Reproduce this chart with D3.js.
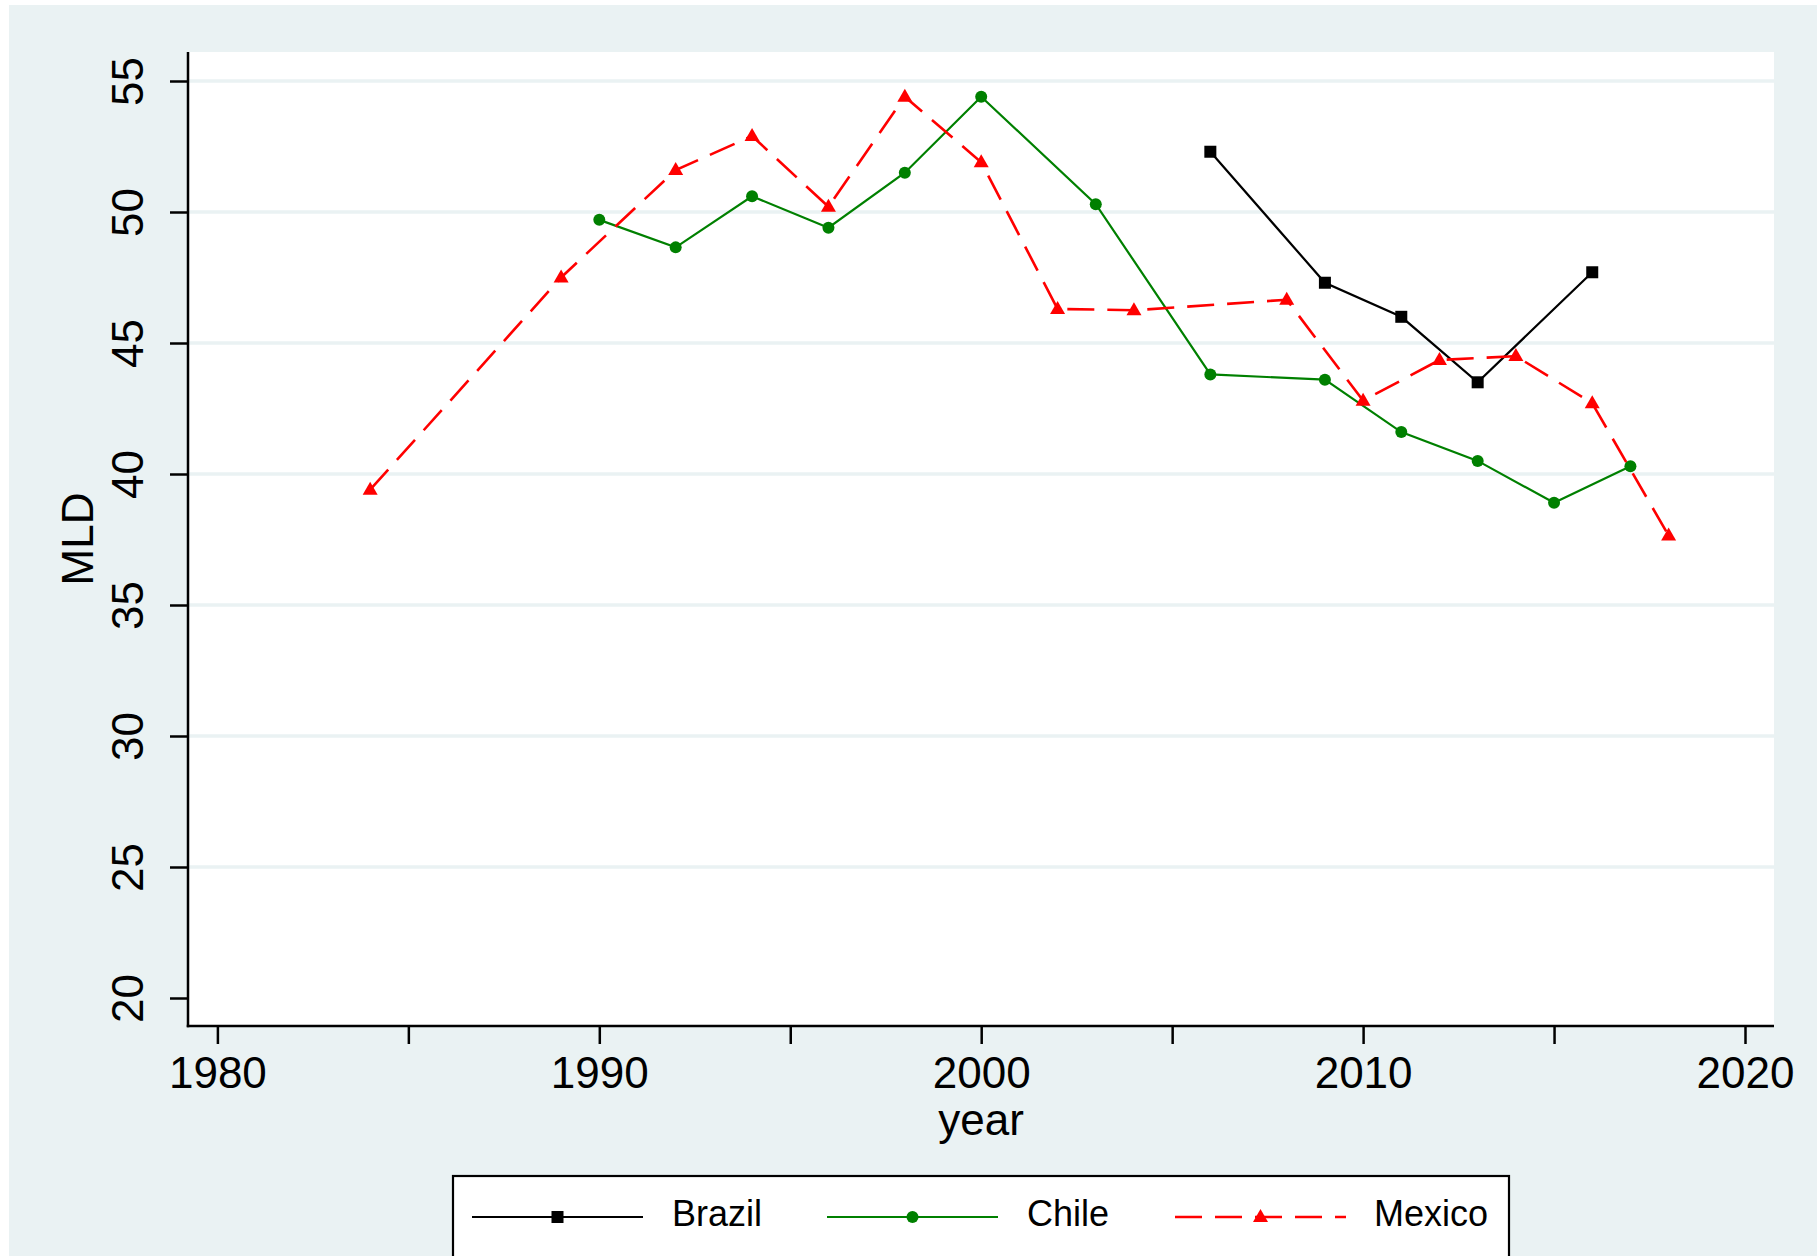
<!DOCTYPE html>
<html>
<head>
<meta charset="utf-8">
<script src="https://cdn.jsdelivr.net/npm/d3@7"></script>
<style>
  html, body { margin: 0; padding: 0; background: #ffffff; }
  svg { display: block; }
  text { font-family: "Liberation Sans", Arial, Helvetica, sans-serif; fill: #000; }
</style>
</head>
<body>
<svg id="chart" width="1817" height="1256"></svg>
<script>
// ---- Data ----
const seriesNames = ["Brazil", "Chile", "Mexico"];

const brazilYears = [2006, 2009, 2011, 2013, 2016];
const brazilMLD   = [52.3, 47.3, 46.0, 43.5, 47.7];

const chileYears = [1990, 1992, 1994, 1996, 1998, 2000, 2003, 2006, 2009, 2011, 2013, 2015, 2017];
const chileMLD   = [49.7, 48.65, 50.6, 49.4, 51.5, 54.4, 50.3, 43.8, 43.6, 41.6, 40.5, 38.9, 40.3];

const mexicoYears = [1984, 1989, 1992, 1994, 1996, 1998, 2000, 2002, 2004, 2008, 2010, 2012, 2014, 2016, 2018];
const mexicoMLD   = [39.4, 47.5, 51.6, 52.9, 50.2, 54.4, 51.9, 46.3, 46.25, 46.65, 42.8, 44.35, 44.5, 42.7, 37.65];

const xTicks = [1980, 1985, 1990, 1995, 2000, 2005, 2010, 2015, 2020];
const xTickLabels = ["1980", "", "1990", "", "2000", "", "2010", "", "2020"];
const yTicks = [20, 25, 30, 35, 40, 45, 50, 55];
const yTickLabels = ["20", "25", "30", "35", "40", "45", "50", "55"];
const yGrid = [25, 30, 35, 40, 45, 50, 55];

const xTitle = "year";
const yTitle = "MLD";

// ---- Layout ----
const W = 1817, H = 1256;
const plot = { left: 188, top: 52, right: 1774, bottom: 1026 };
const bgColor = "#eaf2f3";

const svg = d3.select("#chart");

// outer graph region
svg.append("rect")
  .attr("x", 9).attr("y", 5)
  .attr("width", W - 9).attr("height", H - 5)
  .attr("fill", bgColor);

// plot region
svg.append("rect")
  .attr("x", plot.left).attr("y", plot.top)
  .attr("width", plot.right - plot.left).attr("height", plot.bottom - plot.top)
  .attr("fill", "#ffffff");

const x = d3.scaleLinear().domain([1980, 2020]).range([217.4, 1745]);
const y = d3.scaleLinear().domain([20, 55]).range([998, 81]);

// gridlines
svg.append("g").selectAll("line")
  .data(yGrid)
  .join("line")
  .attr("x1", plot.left).attr("x2", plot.right)
  .attr("y1", d => y(d)).attr("y2", d => y(d))
  .attr("stroke", bgColor)
  .attr("stroke-width", 3.5);

// Y axis
const yAxis = d3.axisLeft(y)
  .tickValues(yTicks)
  .tickSize(18)
  .tickPadding(27)
  .tickFormat((d, i) => yTickLabels[i]);

const gy = svg.append("g")
  .attr("transform", `translate(${plot.left},0)`)
  .call(yAxis);
gy.select(".domain").remove();
gy.selectAll(".tick line").attr("stroke", "#000").attr("stroke-width", 2.5);
gy.selectAll(".tick text")
  .attr("x", null).attr("dy", null)
  .attr("transform", "translate(-45,0) rotate(-90)")
  .attr("text-anchor", "middle")
  .attr("font-size", 44)
  .style("font-family", '"Liberation Sans", Arial, sans-serif');

// X axis
const xAxis = d3.axisBottom(x)
  .tickValues(xTicks)
  .tickSize(18)
  .tickFormat((d, i) => xTickLabels[i]);

const gx = svg.append("g")
  .attr("transform", `translate(0,${plot.bottom})`)
  .call(xAxis);
gx.select(".domain").remove();
gx.selectAll(".tick line").attr("stroke", "#000").attr("stroke-width", 2.5);
gx.selectAll(".tick text")
  .attr("y", 62).attr("dy", null)
  .attr("font-size", 44)
  .style("font-family", '"Liberation Sans", Arial, sans-serif');

// axis lines
svg.append("line")
  .attr("x1", plot.left).attr("x2", plot.left)
  .attr("y1", plot.top).attr("y2", plot.bottom + 1.25)
  .attr("stroke", "#000").attr("stroke-width", 2.5);
svg.append("line")
  .attr("x1", plot.left - 1.25).attr("x2", plot.right)
  .attr("y1", plot.bottom).attr("y2", plot.bottom)
  .attr("stroke", "#000").attr("stroke-width", 2.5);

// axis titles
svg.append("text")
  .attr("x", (plot.left + plot.right) / 2)
  .attr("y", 1135)
  .attr("text-anchor", "middle")
  .attr("font-size", 44)
  .text(xTitle);

svg.append("text")
  .attr("transform", `translate(93,${(plot.top + plot.bottom) / 2}) rotate(-90)`)
  .attr("text-anchor", "middle")
  .attr("font-size", 44)
  .text(yTitle);

// ---- Series ----
const series = [
  { name: seriesNames[0], years: brazilYears, vals: brazilMLD, color: "#000000", dash: null, marker: "square" },
  { name: seriesNames[1], years: chileYears, vals: chileMLD, color: "#008000", dash: null, marker: "circle" },
  { name: seriesNames[2], years: mexicoYears, vals: mexicoMLD, color: "#ff0000", dash: "27,13", marker: "triangle" }
];

const line = d3.line().x(d => x(d[0])).y(d => y(d[1]));

function drawMarker(g, type, color) {
  if (type === "square") {
    g.append("rect").attr("x", -6).attr("y", -6).attr("width", 12).attr("height", 12).attr("fill", color);
  } else if (type === "circle") {
    g.append("circle").attr("r", 6).attr("fill", color);
  } else {
    g.append("path").attr("d", "M0,-8L7.5,5L-7.5,5Z").attr("fill", color);
  }
}

series.forEach(s => {
  const pts = s.years.map((yr, i) => [yr, s.vals[i]]);
  const p = svg.append("path")
    .datum(pts)
    .attr("d", line)
    .attr("fill", "none")
    .attr("stroke", s.color)
    .attr("stroke-width", s.dash ? 2.6 : 2.2);
  if (s.dash) p.attr("stroke-dasharray", s.dash);
  const mg = svg.append("g");
  pts.forEach(pt => {
    const g = mg.append("g").attr("transform", `translate(${x(pt[0])},${y(pt[1])})`);
    drawMarker(g, s.marker, s.color);
  });
});

// ---- Legend ----
svg.append("rect")
  .attr("x", 453).attr("y", 1176)
  .attr("width", 1056).attr("height", 140)
  .attr("fill", "#ffffff")
  .attr("stroke", "#000").attr("stroke-width", 2.2);

const legendItems = [
  { lineX: 472, textX: 672 },
  { lineX: 827, textX: 1027 },
  { lineX: 1175, textX: 1374 }
];
const legendY = 1217;
series.forEach((s, i) => {
  const li = legendItems[i];
  const l = svg.append("line")
    .attr("x1", li.lineX).attr("x2", li.lineX + 171)
    .attr("y1", legendY).attr("y2", legendY)
    .attr("stroke", s.color)
    .attr("stroke-width", s.dash ? 2.6 : 2.2);
  if (s.dash) l.attr("stroke-dasharray", s.dash);
  const g = svg.append("g").attr("transform", `translate(${li.lineX + 85.5},${legendY})`);
  drawMarker(g, s.marker, s.color);
  svg.append("text")
    .attr("x", li.textX).attr("y", 1226)
    .attr("font-size", 36)
    .text(s.name);
});
</script>
</body>
</html>
